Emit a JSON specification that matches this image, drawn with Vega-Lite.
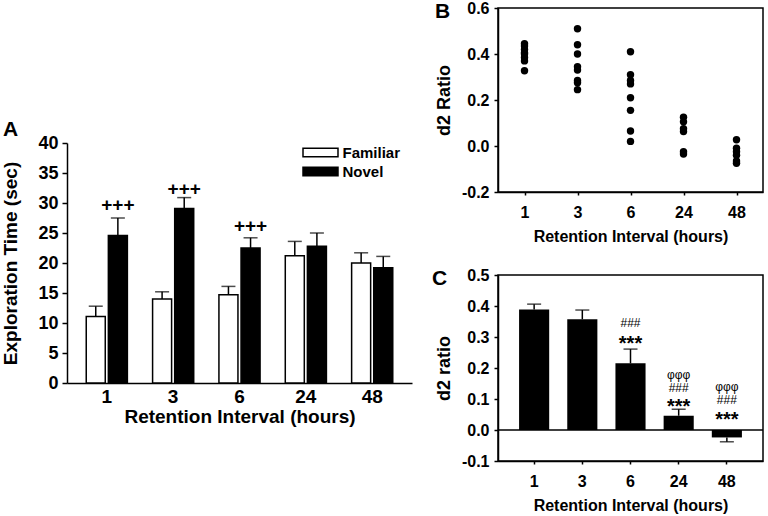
{
  "$schema": "https://vega.github.io/schema/vega-lite/v6.json",
  "autosize": {"type": "none"},
  "padding": {"left": 67, "top": 8, "right": 701, "bottom": 508},
  "background": "white",
  "config": {
    "font": "Liberation Sans",
    "view": {"stroke": "black", "strokeWidth": 1.5},
    "axis": {"domainColor": "black", "domainWidth": 1.5, "tickColor": "black", "tickWidth": 1.5, "labelColor": "black", "titleColor": "black", "labelFont": "Liberation Sans", "titleFont": "Liberation Sans", "labelFontWeight": "bold", "titleFontWeight": "bold", "grid": false, "labelOverlap": false},
    "title": {"font": "Liberation Sans", "fontWeight": "bold", "fontSize": 21, "color": "black", "anchor": "start", "offset": 0, "baseline": "alphabetic", "frame": "group"}
  },
  "datasets": {
    "a": [
      {"hours": "1", "type": "Familiar", "value": 11.1, "top": 12.8},
      {"hours": "1", "type": "Novel", "value": 24.6, "top": 27.5},
      {"hours": "3", "type": "Familiar", "value": 14.0, "top": 15.2},
      {"hours": "3", "type": "Novel", "value": 29.1, "top": 30.9},
      {"hours": "6", "type": "Familiar", "value": 14.7, "top": 16.1},
      {"hours": "6", "type": "Novel", "value": 22.5, "top": 24.2},
      {"hours": "24", "type": "Familiar", "value": 21.2, "top": 23.6},
      {"hours": "24", "type": "Novel", "value": 22.8, "top": 25.0},
      {"hours": "48", "type": "Familiar", "value": 20.0, "top": 21.7},
      {"hours": "48", "type": "Novel", "value": 19.2, "top": 21.1}
    ],
    "a_note": [
      {"hours": "1", "type": "Novel", "y": 29.7, "label": "+++"},
      {"hours": "3", "type": "Novel", "y": 32.4, "label": "+++"},
      {"hours": "6", "type": "Novel", "y": 26.1, "label": "+++"}
    ],
    "b": [
      {"hours": "1", "d2": 0.445}, {"hours": "1", "d2": 0.435}, {"hours": "1", "d2": 0.42}, {"hours": "1", "d2": 0.405},
      {"hours": "1", "d2": 0.4}, {"hours": "1", "d2": 0.385}, {"hours": "1", "d2": 0.37}, {"hours": "1", "d2": 0.327},
      {"hours": "3", "d2": 0.51}, {"hours": "3", "d2": 0.44}, {"hours": "3", "d2": 0.4}, {"hours": "3", "d2": 0.345},
      {"hours": "3", "d2": 0.33}, {"hours": "3", "d2": 0.285}, {"hours": "3", "d2": 0.275}, {"hours": "3", "d2": 0.245},
      {"hours": "6", "d2": 0.41}, {"hours": "6", "d2": 0.31}, {"hours": "6", "d2": 0.285}, {"hours": "6", "d2": 0.27},
      {"hours": "6", "d2": 0.21}, {"hours": "6", "d2": 0.155}, {"hours": "6", "d2": 0.065}, {"hours": "6", "d2": 0.02},
      {"hours": "24", "d2": 0.125}, {"hours": "24", "d2": 0.105}, {"hours": "24", "d2": 0.075}, {"hours": "24", "d2": 0.063},
      {"hours": "24", "d2": -0.025}, {"hours": "24", "d2": -0.035},
      {"hours": "48", "d2": 0.027}, {"hours": "48", "d2": -0.01}, {"hours": "48", "d2": -0.025}, {"hours": "48", "d2": -0.04},
      {"hours": "48", "d2": -0.065}, {"hours": "48", "d2": -0.075}
    ],
    "c": [
      {"hours": "1", "mean": 0.389, "err": 0.406},
      {"hours": "3", "mean": 0.357, "err": 0.387},
      {"hours": "6", "mean": 0.215, "err": 0.261},
      {"hours": "24", "mean": 0.046, "err": 0.067},
      {"hours": "48", "mean": -0.024, "err": -0.038}
    ],
    "c_zero": [{"mean": 0}],
    "c_note": [
      {"hours": "6", "kind": "hash", "label": "###", "mean": 0.344},
      {"hours": "6", "kind": "star", "label": "***", "mean": 0.279},
      {"hours": "24", "kind": "phi", "label": "φφφ", "mean": 0.176},
      {"hours": "24", "kind": "hash", "label": "###", "mean": 0.137},
      {"hours": "24", "kind": "star", "label": "***", "mean": 0.074},
      {"hours": "48", "kind": "phi", "label": "φφφ", "mean": 0.138},
      {"hours": "48", "kind": "hash", "label": "###", "mean": 0.096},
      {"hours": "48", "kind": "star", "label": "***", "mean": 0.033}
    ]
  },
  "spacing": 86,
  "bounds": "flush",
  "hconcat": [
    {
      "width": 345,
      "height": 375,
      "title": {"text": "A", "dx": -64, "dy": 136},
      "view": {"stroke": null},
      "data": {"name": "a"},
      "encoding": {
        "x": {"field": "hours", "type": "nominal", "sort": ["1", "3", "6", "24", "48"],
          "scale": {"paddingInner": 0.38, "paddingOuter": 0.29},
          "axis": {"title": "Retention Interval (hours)", "labelAngle": 0, "ticks": false, "tickSize": 0, "labelFontSize": 19, "titleFontSize": 19, "labelPadding": 4, "titlePadding": 1}},
        "xOffset": {"field": "type", "type": "nominal", "sort": ["Familiar", "Novel"], "scale": {"paddingInner": 0.14}},
        "y": {"field": "value", "type": "quantitative",
          "scale": {"domain": [0, 40], "range": [375, 135], "nice": false},
          "axis": {"values": [0, 5, 10, 15, 20, 25, 30, 35, 40], "title": "Exploration Time (sec)", "labelFontSize": 18, "titleFontSize": 19, "tickSize": 5, "labelPadding": 4, "titlePadding": 17, "labelOverlap": false}}
      },
      "layer": [
        {
          "mark": {"type": "bar", "stroke": "black", "strokeWidth": 1.5},
          "encoding": {
            "fill": {"field": "type", "type": "nominal", "sort": ["Familiar", "Novel"],
              "scale": {"domain": ["Familiar", "Novel"], "range": ["white", "black"]},
              "legend": {"orient": "none", "legendX": 244, "legendY": 135, "title": null,
                "symbolType": "M-2,-0.5H2V0.5H-2Z", "symbolSize": 306, "symbolStrokeColor": "black", "symbolStrokeWidth": 1.5,
                "labelFontSize": 15, "labelFontWeight": "bold", "labelFont": "Liberation Sans", "labelColor": "black", "rowPadding": 1, "labelOffset": 12.5}}
          }
        },
        {
          "mark": {"type": "rule", "color": "black", "strokeWidth": 1.5},
          "encoding": {"y2": {"field": "top"}}
        },
        {
          "mark": {"type": "tick", "color": "black", "thickness": 1.5, "size": 14},
          "encoding": {"y": {"field": "top", "type": "quantitative"}}
        },
        {
          "data": {"name": "a_note"},
          "mark": {"type": "text", "fontSize": 19, "fontWeight": "bold", "baseline": "middle", "color": "black"},
          "encoding": {"y": {"field": "y", "type": "quantitative"}, "text": {"field": "label"}}
        }
      ]
    },
    {
      "spacing": 83,
      "bounds": "flush",
      "vconcat": [
        {
          "width": 265,
          "height": 184,
          "title": {"text": "B", "dx": -63, "dy": 26},
          "data": {"name": "b"},
          "mark": {"type": "circle", "size": 55, "color": "black", "opacity": 1},
          "encoding": {
            "x": {"field": "hours", "type": "nominal", "sort": ["1", "3", "6", "24", "48"],
              "scale": {"type": "point", "padding": 0.5},
              "axis": {"title": "Retention Interval (hours)", "labelAngle": 0, "tickSize": 3, "labelFontSize": 16, "titleFontSize": 16, "labelPadding": 9, "titlePadding": 8}},
            "y": {"field": "d2", "type": "quantitative",
              "scale": {"domain": [-0.2, 0.6], "nice": false},
              "axis": {"values": [-0.2, 0, 0.2, 0.4, 0.6], "format": ".1f", "labelExpr": "replace(datum.label, '−', '-')", "title": "d2 Ratio", "labelFontSize": 16, "titleFontSize": 18, "tickSize": 4, "labelPadding": 5, "titlePadding": 8, "labelOverlap": false}}
          }
        },
        {
          "width": 265,
          "height": 186,
          "title": {"text": "C", "dx": -66, "dy": 26},
          "encoding": {
            "y": {"field": "mean", "type": "quantitative",
              "scale": {"domain": [-0.1, 0.5], "nice": false},
              "axis": {"values": [-0.1, 0, 0.1, 0.2, 0.3, 0.4, 0.5], "format": ".1f", "labelExpr": "replace(datum.label, '−', '-')", "title": "d2 ratio", "labelFontSize": 16, "titleFontSize": 18, "tickSize": 4, "labelPadding": 5, "titlePadding": 8, "labelOverlap": false}}
          },
          "layer": [
            {
              "data": {"name": "c"},
              "mark": {"type": "bar", "color": "black"},
              "encoding": {
                "x": {"field": "hours", "type": "nominal", "sort": ["1", "3", "6", "24", "48"],
                  "scale": {"paddingInner": 0.375, "paddingOuter": 0.4375},
                  "axis": {"title": "Retention Interval (hours)", "labelAngle": 0, "tickSize": 3, "labelFontSize": 16, "titleFontSize": 16, "labelPadding": 9, "titlePadding": 8}}
              }
            },
            {
              "data": {"name": "c"},
              "mark": {"type": "rule", "color": "black", "strokeWidth": 1.5},
              "encoding": {
                "x": {"field": "hours", "type": "nominal", "sort": ["1", "3", "6", "24", "48"]},
                "y2": {"field": "err"}
              }
            },
            {
              "data": {"name": "c"},
              "mark": {"type": "tick", "color": "black", "thickness": 1.5, "size": 14},
              "encoding": {
                "x": {"field": "hours", "type": "nominal", "sort": ["1", "3", "6", "24", "48"]},
                "y": {"field": "err", "type": "quantitative"}
              }
            },
            {
              "data": {"name": "c_zero"},
              "mark": {"type": "rule", "color": "black", "strokeWidth": 1.5},
              "encoding": {}
            },
            {
              "data": {"name": "c_note"},
              "transform": [{"filter": "datum.kind === 'star'"}],
              "mark": {"type": "text", "fontSize": 20, "fontWeight": "bold", "baseline": "middle", "color": "black"},
              "encoding": {
                "x": {"field": "hours", "type": "nominal", "sort": ["1", "3", "6", "24", "48"]},
                "text": {"field": "label"}
              }
            },
            {
              "data": {"name": "c_note"},
              "transform": [{"filter": "datum.kind !== 'star'"}],
              "mark": {"type": "text", "fontSize": 12, "baseline": "middle", "color": "black"},
              "encoding": {
                "x": {"field": "hours", "type": "nominal", "sort": ["1", "3", "6", "24", "48"]},
                "text": {"field": "label"}
              }
            }
          ]
        }
      ]
    }
  ]
}
